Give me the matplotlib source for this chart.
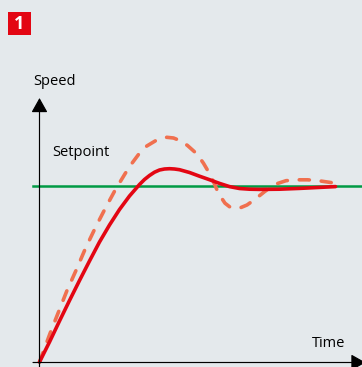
import matplotlib.pyplot as plt
from matplotlib.patches import Rectangle

# values in pixels from the origin of the axes
time_actual = [0, 10, 20, 30, 40, 50, 60, 70, 80, 90, 100, 105, 110, 115, 120,
               125, 130, 135, 140, 150, 160, 170, 180, 190, 200, 210, 220,
               240, 260, 280, 296]
speed_actual = [0, 20, 41, 61.5, 81.5, 101, 120, 137, 152.5, 166, 177.5, 182.5,
                186.5, 189.8, 192, 193, 193.3, 193, 192.3, 189.5, 185.8, 182.3,
                178.6, 175.4, 173.5, 172.8, 172.6, 172.8, 173.6, 174.6, 175.4]
time_overshoot = [0, 10.7, 19, 27.3, 36.7, 45.7, 55.7, 65.7, 75.7, 85.7, 92.3,
                  99, 107.3, 117.3, 127.3, 134, 141.5, 148, 157.5, 164, 170,
                  175, 179, 185.5, 190, 195, 201, 207.5, 215.5, 225, 235,
                  246.5, 256.5, 268, 279, 292.5]
speed_overshoot = [0, 29, 50, 71, 92, 113, 134, 153.5, 172, 188.5, 198.5, 207.5,
                   216, 222, 224.7, 224, 221, 216.5, 208, 198.7, 188.5, 178,
                   168.5, 158.8, 155.3, 153.6, 154.3, 157, 162.7, 170.3, 177.5,
                   181.3, 182.2, 182.2, 181.3, 179.3]
setpoint = 176
labels = {"y": "Speed", "x": "Time", "line": "Setpoint", "badge": "1"}


def main():
    plt.rcParams["font.family"] = ["Open Sans", "DejaVu Sans"]
    fig = plt.figure(figsize=(3.62, 3.67), dpi=100, facecolor="#e4e9ec")
    ax = fig.add_axes([0, 0, 1, 1])
    ax.set_xlim(-39.5, 322.5)
    ax.set_ylim(-5, 362)
    ax.axis("off")

    head = "-|>,head_length=0.89,head_width=0.5"
    ax.annotate("", xy=(0, 264), xytext=(0, -5),
                arrowprops=dict(arrowstyle=head, color="black", lw=0.85,
                                shrinkA=0, shrinkB=0))
    ax.annotate("", xy=(326, -0.5), xytext=(-6.5, -0.5), annotation_clip=False,
                arrowprops=dict(arrowstyle=head, color="black", lw=0.85,
                                shrinkA=0, shrinkB=0))

    ax.plot([-6.5, 322.5], [setpoint, setpoint], color="#009a44", lw=1.8)
    ax.plot(time_overshoot, speed_overshoot, color="#f0704f", lw=2.6,
            dash_capstyle="round", dash_joinstyle="round",
            linestyle=(0, (2.8, 3.3)))
    ax.plot(time_actual, speed_actual, color="#e30613", lw=2.6,
            solid_capstyle="round", solid_joinstyle="round")

    ax.text(-6, 277, labels["y"], fontsize=10.5, va="baseline", color="black")
    ax.text(272.5, 15, labels["x"], fontsize=10.5, va="baseline", color="black")
    ax.text(12.5, 206, labels["line"], fontsize=10.5, va="baseline", color="black")

    ax.add_patch(Rectangle((-31.5, 327), 23, 23, color="#e30613", lw=0))
    ax.text(-20.5, 338, labels["badge"], fontsize=13, fontweight="bold",
            color="white", ha="center", va="center")

    fig.savefig("out.png", dpi=100, facecolor=fig.get_facecolor())


if __name__ == "__main__":
    main()
